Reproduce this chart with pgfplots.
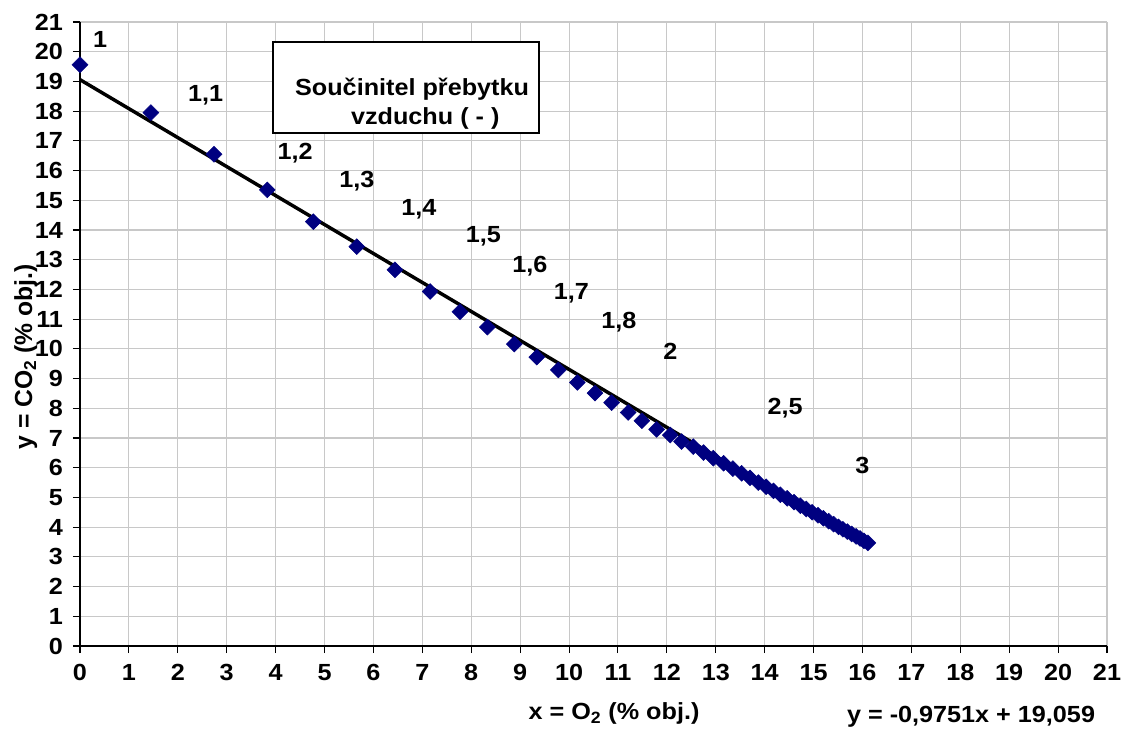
\documentclass[border=0pt]{standalone}
\usepackage{fontspec}
\setmainfont{Liberation Sans}[FakeStretch=1.08]
\newfontfamily\plainfont{Liberation Sans}
\usepackage{pgfplots}
\pgfplotsset{compat=1.18}
\definecolor{navyx}{RGB}{0,0,128}
\definecolor{gridc}{RGB}{200,200,200}
\newcommand\chfont{\fontsize{17.5}{20}\selectfont\bfseries}
\begin{document}
\begin{tikzpicture}
\begin{axis}[
  name=ax,
  width=770.25pt, height=468pt, scale only axis,
  xmin=0, xmax=21, ymin=0, ymax=21,
  xtick={0,...,21}, ytick={0,...,21},
  grid=major, grid style={gridc, line width=0.8pt},
  axis lines=left, axis line style={-, black, line width=1.1pt},
  tick style={black, line width=0.8pt}, tick align=outside,
  major tick length=5.25pt,
  ticklabel style={font=\chfont},
  xticklabel style={yshift=-5pt},
  yticklabel style={xshift=-4pt},
  /pgf/number format/assume math mode=true,
  clip=false,
]
\addplot[only marks, mark=square*, mark size=4.2pt,
  mark options={rotate=45, fill=navyx, draw=navyx}] table {
x y
0 19.56
1.45 17.95
2.74 16.55
3.83 15.35
4.77 14.28
5.66 13.44
6.44 12.66
7.16 11.93
7.77 11.25
8.33 10.73
8.88 10.16
9.34 9.72
9.78 9.29
10.17 8.87
10.53 8.51
10.87 8.19
11.21 7.86
11.49 7.58
11.79 7.29
12.07 7.10
12.30 6.88
12.54 6.71
12.75 6.51
12.95 6.32
13.16 6.15
13.35 5.97
13.53 5.81
13.70 5.66
13.87 5.50
14.03 5.36
14.18 5.22
14.32 5.09
14.46 4.97
14.60 4.84
14.73 4.72
14.85 4.61
14.97 4.50
15.09 4.40
15.20 4.30
15.31 4.20
15.41 4.10
15.51 4.01
15.60 3.93
15.69 3.85
15.78 3.77
15.87 3.69
15.95 3.62
16.03 3.54
16.11 3.47
};
\addplot[black, line width=2.6pt, no marks] coordinates {(0,19.059) (16.05,3.409)};

\draw[black, line width=1.2pt, fill=white] (axis cs:3.95,20.33) rectangle (axis cs:9.39,17.27);
\node[font=\chfont, anchor=base] at (axis cs:6.79,18.51) {Součinitel přebytku};
\node[font=\chfont, anchor=base] at (axis cs:7.06,17.56) {vzduchu ( - )};

\node[font=\chfont] at (axis cs:0.41,20.40) {1};
\node[font=\chfont] at (axis cs:2.57,18.55) {1,1};
\node[font=\chfont] at (axis cs:4.40,16.58) {1,2};
\node[font=\chfont] at (axis cs:5.66,15.63) {1,3};
\node[font=\chfont] at (axis cs:6.93,14.71) {1,4};
\node[font=\chfont] at (axis cs:8.25,13.78) {1,5};
\node[font=\chfont] at (axis cs:9.20,12.79) {1,6};
\node[font=\chfont] at (axis cs:10.05,11.88) {1,7};
\node[font=\chfont] at (axis cs:11.02,10.90) {1,8};
\node[font=\chfont] at (axis cs:12.07,9.93) {2};
\node[font=\chfont] at (axis cs:14.42,8.00) {2,5};
\node[font=\chfont] at (axis cs:16.00,6.09) {3};

\node[font=\chfont, anchor=base] at (axis cs:10.92,-2.49) {x = O\textsubscript{2} (\% obj.)};
\node[font=\chfont, anchor=base] at (axis cs:18.22,-2.57) {y = -0,9751x + 19,059};
\node[font=\fontsize{18.5}{21}\plainfont\bfseries, rotate=90, anchor=base] at (axis cs:-0.98,9.73) {y = CO\textsubscript{2} (\% obj.)};
\end{axis}
\pgfresetboundingbox
\path ([shift={(-60pt,-61.5pt)}]ax.south west) rectangle ([shift={(12.75pt,16.5pt)}]ax.north east);
\end{tikzpicture}
\end{document}
